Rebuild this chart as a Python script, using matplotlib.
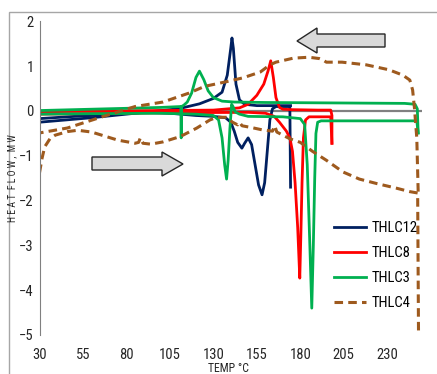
import matplotlib
matplotlib.use('Agg')
import matplotlib.pyplot as plt
from matplotlib import font_manager
from matplotlib.patches import Polygon, Rectangle

names = {f.name for f in font_manager.fontManager.ttflist}
font = 'Liberation Sans'
for cand in ['Liberation Sans Narrow', 'Roboto Condensed', 'Open Sans Condensed', 'Arial Narrow']:
    if cand in names:
        font = cand
        break
plt.rcParams['font.family'] = [font, 'DejaVu Sans']

# THLC12
t12_heat = [30, 50, 70, 90, 105, 120, 130, 137, 140, 142, 144, 146.4, 148, 150, 152, 154, 156, 158, 159.5, 161, 162.5, 164, 166, 170, 174, 174.4]
hf12_heat = [-0.17, -0.12, -0.08, -0.03, -0.05, -0.1, -0.12, -0.15, -0.25, -0.45, -0.7, -0.83, -0.72, -0.6, -0.75, -1.2, -1.65, -1.87, -1.6, -0.9, -0.2, 0.05, 0.1, 0.1, 0.1, -1.7]
t12_cool = [174.4, 165, 155, 148, 145, 143, 141.5, 140.7, 140, 138, 135, 130, 122, 110, 90, 60, 30]
hf12_cool = [0.12, 0.12, 0.12, 0.15, 0.25, 0.6, 1.4, 1.63, 1.4, 0.8, 0.42, 0.28, 0.16, 0.05, -0.03, -0.15, -0.25]

# THLC8
t8_heat = [30, 100, 150, 160, 165, 168, 172, 174, 175.5, 177, 178.5, 179.7, 180.3, 181, 181.8, 183, 185, 190, 197.5, 198.2]
hf8_heat = [-0.07, -0.04, -0.03, -0.05, -0.12, -0.25, -0.45, -0.6, -0.9, -1.6, -2.6, -3.73, -2.8, -1.6, -0.6, -0.2, -0.13, -0.13, -0.13, -0.72]
t8_cool = [198.2, 198.2, 197.5, 190, 175, 170, 168, 166, 164.5, 163, 161.5, 159, 155, 150, 145, 130, 100, 60, 30]
hf8_cool = [-0.72, -0.1, 0.02, 0.02, 0.03, 0.04, 0.08, 0.3, 0.75, 1.12, 0.9, 0.6, 0.35, 0.15, 0.07, 0.02, 0.01, 0.0, -0.02]

# THLC3
t3_heat = [30, 60, 100, 120, 130, 133, 135, 136.5, 137.6, 138.5, 139.5, 140.5, 141.3, 142.5, 145, 150, 170, 180, 182.5, 184, 185.5, 186.6, 187.5, 188.3, 189, 190, 192, 247, 247.8]
hf3_heat = [-0.07, -0.06, -0.05, -0.07, -0.1, -0.2, -0.6, -1.2, -1.52, -1.1, -0.4, 0.15, 0.1, -0.02, -0.07, -0.12, -0.13, -0.17, -0.3, -1.2, -3.0, -4.4, -3.0, -1.5, -0.5, -0.25, -0.22, -0.22, -0.49]
t3_cool = [247.8, 247.3, 246, 240, 200, 160, 142, 135, 130, 127, 124.5, 122, 120, 117.5, 115, 113, 111.7, 111.5, 111.3, 100, 70, 30]
hf3_cool = [-0.49, 0.05, 0.15, 0.17, 0.18, 0.19, 0.2, 0.22, 0.3, 0.45, 0.7, 0.89, 0.75, 0.4, 0.2, 0.13, 0.1, -0.6, 0.1, 0.08, 0.05, 0.01]

# THLC4
t4_heat = [30, 31.5, 33, 36, 39, 46, 52, 60, 75, 85, 87, 88, 89.5, 94, 101, 111, 120.5, 128, 132, 137.6, 141, 144, 145, 146.5, 152, 158, 164, 165.3, 166.5, 170, 174, 180, 187, 195, 204.5, 214, 224, 235, 243, 247.5, 248]
hf4_heat = [-1.38, -1.05, -0.8, -0.62, -0.54, -0.46, -0.43, -0.47, -0.65, -0.72, -0.7, -0.6, -0.72, -0.74, -0.69, -0.57, -0.38, -0.2, -0.14, -0.14, -0.25, -0.31, -0.25, -0.33, -0.37, -0.42, -0.45, -0.33, -0.47, -0.54, -0.62, -0.7, -0.9, -1.1, -1.36, -1.52, -1.62, -1.72, -1.8, -1.83, -5.0]
t4_cool = [247.8, 247, 245.7, 244.6, 243, 239, 231, 218, 204, 195, 193, 191, 185, 176, 166, 162.5, 157, 147, 137, 125, 116, 101, 85, 66, 46, 30]
hf4_cool = [-1.8, -0.6, 0.05, 0.47, 0.69, 0.8, 0.92, 1.03, 1.09, 1.09, 1.14, 1.17, 1.2, 1.18, 1.09, 1.03, 0.87, 0.74, 0.65, 0.55, 0.4, 0.2, 0.1, -0.13, -0.38, -0.49]

x_ticks = [30, 55, 80, 105, 130, 155, 180, 205, 230]
y_ticks = [-5, -4, -3, -2, -1, 0, 1, 2]

W, H = 437, 374
fig = plt.figure(figsize=(W / 100, H / 100), dpi=100)
ax = fig.add_axes([39.5 / W, 39 / H, 382.5 / W, 313.6 / H])

def px(x, y):
    return (x / W, 1 - y / H)

# chart border
fig.patches.append(Rectangle(px(9, 500), 600 / W, 488 / H, transform=fig.transFigure,
                             fill=False, edgecolor='#a6a6a6', lw=1))

ax.axhline(0, color='#808080', lw=1.6, zorder=1)

navy, red, green, brown = '#002060', '#ff0000', '#00b050', '#9e5a1e'
ax.plot(t12_heat, hf12_heat, color=navy, lw=2, label='THLC12')
ax.plot(t12_cool, hf12_cool, color=navy, lw=2)
ax.plot(t8_heat, hf8_heat, color=red, lw=2, label='THLC8')
ax.plot(t8_cool, hf8_cool, color=red, lw=2)
ax.plot(t3_heat, hf3_heat, color=green, lw=2, label='THLC3')
ax.plot(t3_cool, hf3_cool, color=green, lw=2)
ax.plot(t4_heat, hf4_heat, color=brown, lw=2.2, ls=(0, (2.8, 1.7)), label='THLC4')
ax.plot(t4_cool, hf4_cool, color=brown, lw=2.2, ls=(0, (2.8, 1.7)))

ax.set_xlim(30, 250)
ax.set_ylim(-5, 2)
ax.set_xticks(x_ticks)
ax.set_yticks(y_ticks)
ax.tick_params(axis='x', length=0, pad=9.5, labelsize=10.5, labelcolor='#262626')
ax.tick_params(axis='y', length=0, pad=4, labelsize=10.5, labelcolor='#262626')
for s in ['top', 'right', 'bottom']:
    ax.spines[s].set_visible(False)
ax.spines['left'].set_color('#808080')
ax.patch.set_alpha(0)

fig.text(12.5 / W, 1 - 178 / H, 'H E A T  F L O W ,  M W', rotation=90, fontsize=7,
         ha='center', va='center', color='#262626')
fig.text(228 / W, 1 - 369 / H, 'TEMP °C', fontsize=8.5, ha='center', va='center', color='#262626')

leg = ax.legend(loc='upper left', bbox_to_anchor=px(334, 221), bbox_transform=fig.transFigure,
                frameon=False, fontsize=10.5, handlelength=2.2, handletextpad=0.35,
                labelspacing=0.75, borderpad=0, borderaxespad=0)

# arrows
right_arrow = [(92, 157), (162, 157), (162, 152), (183, 164), (162, 176), (162, 170), (92, 170)]
left_arrow = [(385, 34), (317, 34), (317, 28), (297, 41), (317, 53), (317, 47), (385, 47)]
for pts in (right_arrow, left_arrow):
    fig.patches.append(Polygon([px(x, y) for x, y in pts], closed=True, transform=fig.transFigure,
                               facecolor='#d9d9d9', edgecolor='#262626', lw=1, zorder=5))

fig.savefig('out.png', dpi=100)
